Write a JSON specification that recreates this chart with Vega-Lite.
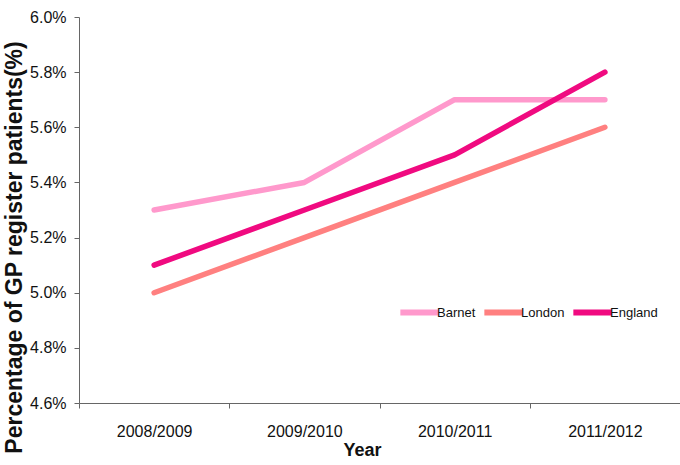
{
  "$schema": "https://vega.github.io/schema/vega-lite/v6.json",
  "width": 601,
  "height": 386,
  "autosize": "none",
  "padding": {"left": 79, "top": 17, "right": 0, "bottom": 62},
  "background": "white",
  "config": {
    "view": {"stroke": null},
    "font": "Liberation Sans",
    "axis": {"grid": false, "domainColor": "#666666", "tickColor": "#666666", "labelColor": "#111111", "titleColor": "#111111", "labelFont": "Liberation Sans", "titleFont": "Liberation Sans"}
  },
  "data": {
    "values": [
      {"year": "2008/2009", "area": "Barnet", "pct": 0.053},
      {"year": "2009/2010", "area": "Barnet", "pct": 0.054},
      {"year": "2010/2011", "area": "Barnet", "pct": 0.057},
      {"year": "2011/2012", "area": "Barnet", "pct": 0.057},
      {"year": "2008/2009", "area": "London", "pct": 0.050},
      {"year": "2009/2010", "area": "London", "pct": 0.052},
      {"year": "2010/2011", "area": "London", "pct": 0.054},
      {"year": "2011/2012", "area": "London", "pct": 0.056},
      {"year": "2008/2009", "area": "England", "pct": 0.051},
      {"year": "2009/2010", "area": "England", "pct": 0.053},
      {"year": "2010/2011", "area": "England", "pct": 0.055},
      {"year": "2011/2012", "area": "England", "pct": 0.058}
    ]
  },
  "mark": {"type": "line", "strokeWidth": 5.5, "strokeCap": "round", "strokeJoin": "round"},
  "encoding": {
    "x": {
      "field": "year",
      "type": "ordinal",
      "scale": {"type": "band", "paddingInner": 0, "paddingOuter": 0},
      "axis": {
        "title": "Year",
        "titleFontSize": 18,
        "titleFontWeight": "bold",
        "titleX": 283,
        "titleY": 38,
        "titleAlign": "center",
        "titleBaseline": "top",
        "labelAngle": 0,
        "labelFontSize": 16,
        "labelPadding": 15,
        "tickSize": 5,
        "tickBand": "extent"
      }
    },
    "y": {
      "field": "pct",
      "type": "quantitative",
      "scale": {"domain": [0.046, 0.060], "nice": false, "zero": false},
      "axis": {
        "title": "Percentage of GP register patients(%)",
        "titleFontSize": 23,
        "titleFontWeight": "bold",
        "titleAngle": -90,
        "titleAlign": "center",
        "titleBaseline": "alphabetic",
        "titleX": -58,
        "titleY": 230,
        "format": ".1%",
        "values": [0.046, 0.048, 0.050, 0.052, 0.054, 0.056, 0.058, 0.060],
        "labelFontSize": 16,
        "labelPadding": 8,
        "tickSize": 5
      }
    },
    "color": {
      "field": "area",
      "type": "nominal",
      "scale": {"domain": ["Barnet", "London", "England"], "range": ["#FF99CC", "#FF8080", "#F00A80"]},
      "legend": {
        "title": null,
        "orient": "none",
        "direction": "horizontal",
        "legendX": 318,
        "legendY": 273,
        "padding": 0,
        "gridAlign": "none",
        "symbolType": "stroke",
        "symbolSize": 1467,
        "symbolStrokeWidth": 6,
        "labelFontSize": 13,
        "labelOffset": -5,
        "columnPadding": -4,
        "labelColor": "#111111"
      }
    },
    "order": {"field": "year"}
  }
}
